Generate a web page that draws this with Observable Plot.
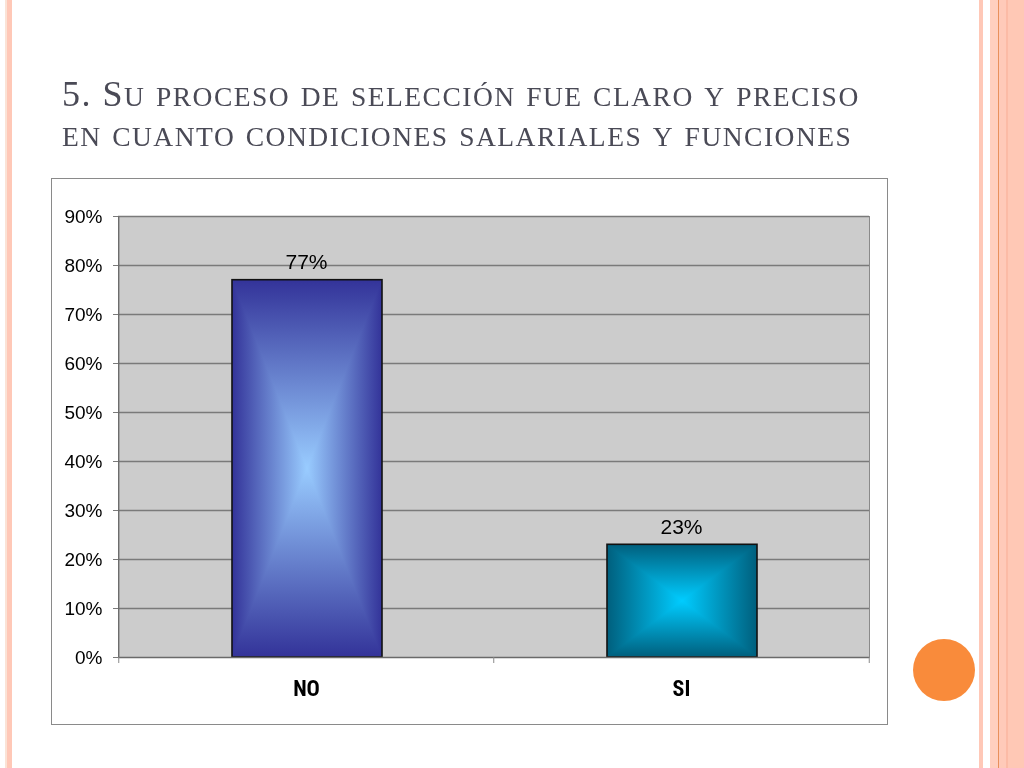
<!DOCTYPE html>
<html><head><meta charset="utf-8">
<script src="https://cdn.jsdelivr.net/npm/d3@7"></script>
<script src="https://cdn.jsdelivr.net/npm/@observablehq/plot@0.6"></script>
<style>
html,body{margin:0;padding:0;background:#fff;}
body{width:1024px;height:768px;position:relative;overflow:hidden;}
.s{position:absolute;top:0;height:768px;}
#title{position:absolute;left:62px;top:74px;font-family:"Liberation Serif",serif;font-size:36px;line-height:40px;color:#4a4a56;white-space:nowrap;letter-spacing:1.5px;}
#title .ln{height:40px;}
#title .sc{font-size:27.5px;line-height:0;}
#box{position:absolute;left:51px;top:178px;width:837px;height:547px;border:1px solid #8a8a8a;box-sizing:border-box;background:#fff;}
#chart{position:absolute;left:51px;top:178px;}
#dot{position:absolute;left:913px;top:639px;width:62px;height:62px;border-radius:50%;background:#f98b3b;}
</style></head><body>
<div class="s" style="left:5px;width:2px;background:#fbe3d6"></div>
<div class="s" style="left:7px;width:5px;background:#ffc8b7"></div>
<div class="s" style="left:979px;width:4px;background:#ffc8b7"></div>
<div class="s" style="left:990px;width:8px;background:#ffcfbf"></div>
<div class="s" style="left:998px;width:1px;background:#e8905c"></div>
<div class="s" style="left:999px;width:7px;background:#ffcab9"></div>
<div class="s" style="left:1006px;width:2px;background:#fcbba6"></div>
<div class="s" style="left:1008px;width:16px;background:#ffc8b5"></div>
<div id="dot"></div>
<div id="title"></div>
<div id="box"></div>
<div id="chart"></div>
<script>
// ---- data ----
const titleLines = ["5. Su proceso de selección fue claro y preciso", "en cuanto condiciones salariales y funciones"];
const categories = ["NO", "SI"];
const values = [0.77, 0.23];
const yTicks = [0, 0.1, 0.2, 0.3, 0.4, 0.5, 0.6, 0.7, 0.8, 0.9];

// ---- styles ----
const barColors = { NO: ["#333399", "#99ccff"], SI: ["#005f7d", "#00ccff"] };

// title in small caps (lowercase letters -> smaller capitals)
const titleEl = document.getElementById("title");
titleLines.forEach(line => {
  const ln = document.createElement("div");
  ln.className = "ln";
  line.replace(/([^a-záéíóúñü]+)|([a-záéíóúñü]+)/g, (m, big, small) => {
    if (big) ln.appendChild(document.createTextNode(big));
    else { const s = document.createElement("span"); s.className = "sc"; s.textContent = small.toUpperCase(); ln.appendChild(s); }
    return m;
  });
  titleEl.appendChild(ln);
});

const W = 836, H = 546, mL = 67, mR = 18, mT = 38, mB = 67;
const step = (W - mL - mR) / categories.length;
const data = categories.map((c, i) => ({ cat: c, value: values[i] }));
const pct = d3.format(".0%");

const defs = () => {
  const d = d3.create("svg:defs");
  categories.forEach(c => {
    const [edge, center] = barColors[c];
    [["h", 1, 0], ["v", 0, 1]].forEach(([p, x2, y2]) => {
      const g = d.append("linearGradient").attr("id", p + c)
        .attr("x1", 0).attr("y1", 0).attr("x2", x2).attr("y2", y2);
      g.append("stop").attr("offset", 0).attr("stop-color", edge);
      g.append("stop").attr("offset", 0.5).attr("stop-color", center);
      g.append("stop").attr("offset", 1).attr("stop-color", edge);
    });
  });
  return d.node();
};

const plot = Plot.plot({
  width: W, height: H,
  marginLeft: mL, marginRight: mR, marginTop: mT, marginBottom: mB,
  style: { background: "transparent", fontFamily: "'Liberation Sans', Arial, sans-serif", color: "#000" },
  x: { domain: categories, paddingInner: 0.6, paddingOuter: 0.3, axis: null },
  y: { domain: [0, 0.9], axis: null },
  color: { type: "identity" },
  marks: [
    defs,
    Plot.frame({ fill: "#cccccc", stroke: "#8a8a8a" }),
    Plot.ruleY(yTicks.filter(v => v > 0), { stroke: "#7a7a7a", strokeWidth: 1.3 }),
    Plot.barY(data, { x: "cat", y: "value", fill: d => "url(#h" + d.cat + ")", inset: 0, dx: 1 }),
    Plot.barY(data, { x: "cat", y: "value", fill: d => "url(#v" + d.cat + ")", inset: 0, dx: 1, mixBlendMode: "darken" }),
    Plot.barY(data, { x: "cat", y: "value", fill: "none", stroke: "#111", strokeWidth: 1.6, inset: 0, dx: 1 }),
    Plot.ruleY([0], { stroke: "#6a6a6a", strokeWidth: 1.3 }),
    Plot.ruleX([categories[0]], { dx: -step / 2, stroke: "#6a6a6a", strokeWidth: 1.3 }),
    Plot.axisY({ ticks: yTicks, tickFormat: pct, tickSize: 5, tickPadding: 11, fontSize: 19, stroke: "#7a7a7a", label: null }),
    Plot.axisX({ ticks: categories, tickSize: 6, fill: "none", dx: -step / 2, stroke: "#8a8a8a", label: null }),
    Plot.axisX({ ticks: categories.slice(-1), tickSize: 6, fill: "none", dx: step / 2, stroke: "#8a8a8a", label: null }),
    Plot.axisX({ ticks: categories, tickSize: 0, tickPadding: 23, fontSize: 22, fontWeight: "bold",
      fontFamily: "'Liberation Sans Narrow', 'Roboto Condensed', 'Liberation Sans', sans-serif", label: null }),
    Plot.text(data, { x: "cat", y: "value", text: d => pct(d.value), dy: -18, fontSize: 21 })
  ]
});
document.getElementById("chart").appendChild(plot);
</script>
</body></html>
